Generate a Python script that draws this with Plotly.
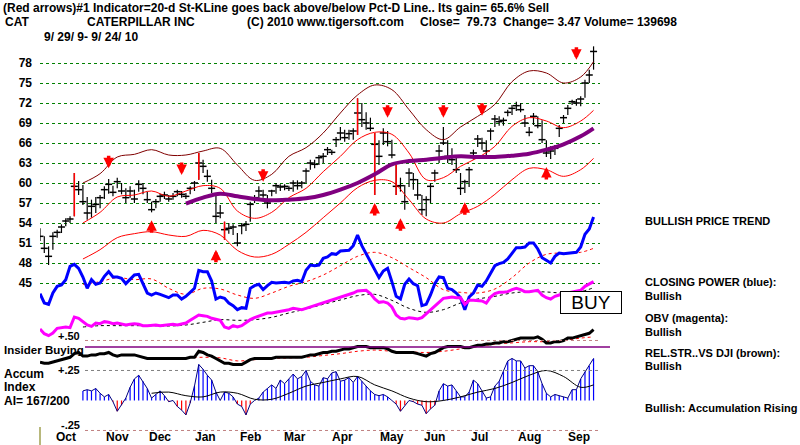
import pandas as pd
import plotly.graph_objects as go

# ---------------- data ----------------
START = "2009-09-29"          # first bar; one value every 2 trading days
HIGH = [53.2, 52.0, 50.5, 52.6, 53.0, 53.8, 54.7, 55.0, 61.5, 60.3,
        59.7, 57.9, 57.5, 57.9, 58.2, 59.5, 60.6, 59.6, 60.8, 60.0,
        59.2, 59.5, 59.0, 60.4, 60.0, 58.7, 57.2, 57.6, 58.4, 58.7,
        58.2, 58.5, 59.0, 58.8, 58.5, 59.5, 60.3, 64.5, 63.5, 62.0,
        60.5, 58.5, 56.7, 54.2, 54.0, 53.8, 52.5, 54.0, 54.3, 57.2,
        58.2, 59.5, 59.0, 58.2, 59.0, 60.0, 59.8, 59.8, 59.6, 60.4,
        60.4, 60.3, 62.2, 63.5, 63.5, 64.2, 64.5, 65.4, 65.0, 66.9,
        68.4, 68.0, 68.0, 68.2, 72.7, 72.0, 70.6, 69.8, 67.5, 66.4,
        68.2, 67.8, 66.5, 62.7, 60.8, 59.7, 62.2, 61.5, 60.6, 58.2,
        58.0, 60.0, 62.0, 65.7, 68.4, 66.4, 65.2, 64.0, 61.5, 60.5,
        62.4, 65.0, 67.2, 66.8, 66.4, 68.2, 70.2, 70.0, 69.8, 71.0,
        71.7, 72.2, 72.0, 70.2, 68.4, 70.5, 70.0, 69.4, 66.4, 65.5,
        65.7, 68.7, 70.2, 71.7, 72.5, 72.6, 73.0, 75.5, 77.0, 80.5]
LOW = [51.3, 49.5, 47.7, 50.0, 51.8, 52.5, 53.5, 54.0, 55.0, 58.2,
       56.7, 54.5, 54.8, 55.5, 56.2, 57.6, 58.4, 58.0, 59.2, 58.3,
       57.0, 57.8, 57.0, 58.7, 58.3, 57.0, 55.6, 56.2, 57.2, 57.6,
       57.2, 57.5, 58.0, 57.8, 57.6, 58.3, 58.8, 60.5, 61.5, 60.2,
       58.5, 54.0, 54.7, 51.5, 52.4, 52.2, 50.5, 52.3, 52.8, 54.2,
       57.0, 57.6, 57.8, 56.2, 58.0, 58.4, 58.8, 58.9, 58.8, 58.7,
       59.0, 59.2, 60.0, 62.0, 62.2, 62.7, 63.0, 64.2, 64.2, 65.4,
       66.4, 66.2, 66.5, 66.5, 67.2, 68.4, 68.0, 67.8, 58.2, 62.7,
       65.7, 65.5, 63.7, 58.2, 58.7, 56.0, 59.4, 59.0, 57.5, 55.2,
       55.0, 57.0, 60.2, 63.0, 65.7, 63.0, 62.7, 61.5, 58.2, 58.5,
       59.4, 63.5, 65.4, 65.0, 64.2, 66.4, 68.4, 68.6, 68.6, 70.0,
       70.2, 70.8, 70.6, 68.4, 67.0, 68.7, 68.2, 66.0, 63.9, 63.6,
       64.2, 66.9, 69.0, 70.2, 71.7, 71.6, 71.5, 72.8, 75.0, 77.0]
CLOSE = [52.0, 50.2, 49.0, 52.0, 52.6, 53.4, 54.3, 54.6, 59.5, 59.0,
         57.2, 55.5, 56.5, 56.8, 57.8, 59.0, 59.8, 58.6, 60.2, 58.8,
         57.8, 58.8, 57.6, 59.8, 59.2, 57.5, 56.0, 57.2, 58.0, 58.2,
         57.6, 58.0, 58.7, 58.3, 58.0, 59.2, 60.0, 63.0, 62.5, 61.0,
         59.2, 55.0, 55.5, 53.0, 53.2, 53.4, 51.0, 53.6, 53.8, 56.8,
         57.8, 58.8, 58.2, 57.0, 58.8, 59.6, 59.4, 59.5, 59.2, 60.0,
         59.6, 60.0, 61.8, 63.0, 62.8, 63.8, 64.0, 65.0, 64.6, 66.5,
         67.5, 66.8, 67.4, 67.8, 70.5, 69.5, 69.0, 68.2, 65.8, 64.0,
         67.5, 66.2, 64.2, 59.5, 59.6, 57.2, 61.5, 60.5, 58.2, 56.0,
         57.5, 59.5, 61.5, 64.8, 66.0, 64.0, 63.5, 62.0, 59.2, 60.2,
         62.0, 64.5, 66.6, 66.0, 64.8, 67.8, 69.6, 69.2, 69.4, 70.6,
         71.2, 71.6, 71.0, 69.0, 67.6, 70.0, 68.6, 66.5, 64.5, 64.8,
         65.2, 68.2, 69.8, 71.2, 72.2, 72.0, 72.6, 75.0, 76.2, 79.73]
SIGNAL_BARS = [8, 37, 43, 74, 78, 83]          # red bars

# closing power (blue) and OBV (magenta), drawn in the price panel
CLOSING_POWER = [43.4, 42.0, 41.8, 43.5, 44.5, 44.7, 45.5, 47.5, 47.8, 47.2,
                 45.9, 44.2, 45.5, 44.8, 45.0, 46.0, 46.7, 45.9, 45.9, 45.7,
                 44.9, 45.5, 46.2, 46.3, 44.9, 43.5, 43.2, 43.5, 43.3, 43.0,
                 42.8, 43.2, 43.2, 42.6, 43.0, 43.6, 44.2, 46.9, 46.7, 46.7,
                 45.3, 42.6, 42.9, 42.7, 42.0, 41.6, 41.0, 41.3, 41.2, 44.2,
                 44.6, 44.8, 44.0, 44.6, 45.1, 45.0, 45.1, 45.1, 45.0, 45.3,
                 45.4, 45.2, 46.9, 47.7, 47.6, 47.7, 48.7, 48.9, 49.4, 49.3,
                 49.8, 49.8, 49.9, 50.6, 52.2, 50.6, 49.4, 48.2, 47.0, 45.8,
                 46.8, 47.2, 45.2, 43.0, 42.6, 44.8, 45.6, 44.9, 44.6, 41.6,
                 41.8, 43.2, 44.9, 45.9, 45.8, 44.2, 44.0, 43.5, 42.8, 41.0,
                 42.9, 43.5, 44.7, 44.5, 45.3, 46.5, 47.6, 47.9, 48.1, 48.6,
                 49.5, 50.3, 50.3, 50.4, 51.0, 51.0, 50.1, 48.8, 48.4, 48.0,
                 49.0, 49.5, 49.4, 49.5, 49.5, 49.6, 50.4, 52.3, 53.1, 54.9]
OBV = [38.1, 37.4, 37.1, 37.5, 38.2, 38.3, 38.4, 38.3, 39.9, 39.7,
       39.2, 38.7, 38.5, 39.0, 38.9, 39.2, 39.1, 38.9, 39.0, 38.8,
       38.7, 38.8, 38.9, 38.8, 38.6, 38.6, 38.7, 38.7, 38.6, 38.7,
       38.7, 38.8, 38.7, 38.8, 39.0, 39.4, 39.8, 40.2, 40.1, 40.0,
       39.7, 39.5, 39.4, 38.4, 38.2, 38.6, 38.4, 38.6, 39.1, 39.5,
       39.8, 40.0, 40.2, 40.5, 40.5, 40.6, 40.7, 40.9, 41.0, 41.2,
       41.1, 41.0, 41.2, 41.4, 41.6, 41.9, 42.1, 42.2, 42.4, 42.6,
       42.8, 43.1, 43.3, 43.5, 43.8, 43.9, 43.9, 43.4, 42.6, 42.1,
       42.2, 42.0, 41.4, 40.2, 39.7, 39.6, 39.8, 39.7, 39.6, 39.8,
       40.4, 40.9, 41.5, 42.2, 42.7, 42.8, 42.9, 42.8, 42.8, 41.8,
       42.4, 42.4, 42.4, 42.3, 42.0, 42.9, 43.4, 43.6, 43.6, 43.7,
       44.0, 44.2, 44.0, 43.7, 43.7, 43.8, 43.9, 43.2, 42.8, 42.6,
       43.0, 43.2, 43.5, 43.5, 43.6, 43.8, 43.9, 44.5, 44.9, 45.2]

# relative strength vs DJI (black, lower panel scale) and accumulation index
REL_STRENGTH = [0.32, 0.31, 0.31, 0.32, 0.33, 0.34, 0.35, 0.36, 0.39, 0.40,
                0.37, 0.37, 0.38, 0.38, 0.39, 0.39, 0.40, 0.38, 0.37, 0.38,
                0.38, 0.38, 0.38, 0.37, 0.36, 0.35, 0.35, 0.35, 0.35, 0.35,
                0.35, 0.35, 0.35, 0.35, 0.35, 0.36, 0.36, 0.41, 0.40, 0.38,
                0.37, 0.35, 0.33, 0.31, 0.31, 0.30, 0.30, 0.30, 0.32, 0.34,
                0.35, 0.35, 0.35, 0.35, 0.35, 0.36, 0.36, 0.36, 0.36, 0.36,
                0.36, 0.36, 0.37, 0.38, 0.38, 0.39, 0.40, 0.40, 0.41, 0.41,
                0.42, 0.43, 0.43, 0.44, 0.45, 0.45, 0.45, 0.44, 0.44, 0.44,
                0.44, 0.43, 0.41, 0.40, 0.40, 0.40, 0.40, 0.40, 0.39, 0.38,
                0.37, 0.39, 0.40, 0.42, 0.44, 0.45, 0.45, 0.45, 0.45, 0.44,
                0.44, 0.45, 0.46, 0.46, 0.47, 0.47, 0.48, 0.48, 0.49, 0.49,
                0.50, 0.51, 0.52, 0.52, 0.52, 0.52, 0.53, 0.51, 0.48, 0.48,
                0.49, 0.49, 0.50, 0.52, 0.52, 0.53, 0.54, 0.55, 0.56, 0.59]
AI_START = 10
ACCUM_INDEX = [0.08, 0.09, 0.08, 0.10, 0.06, 0.03, 0.05, -0.01, -0.09, -0.04,
               0.02, 0.11, 0.18, 0.21, 0.16, 0.10, 0.02, 0.05, 0.08, 0.04,
               -0.01, 0.0, -0.05, -0.08, -0.12, -0.02, 0.12, 0.30, 0.26, 0.21,
               0.17, 0.07, 0.0, 0.07, 0.06, 0.03, -0.03, -0.05, -0.12, -0.03,
               0.0, 0.02, 0.07, 0.10, 0.13, 0.10, 0.17, 0.14, 0.18, 0.22,
               0.18, 0.20, 0.25, 0.16, 0.13, 0.12, 0.19, 0.18, 0.23, 0.24,
               0.16, 0.17, 0.19, 0.15, 0.20, 0.16, 0.12, 0.08, 0.05, 0.04,
               0.05, 0.03, 0.0, -0.03, -0.09, -0.04, 0.0, -0.01, -0.03, -0.04,
               -0.11, -0.07, -0.04, 0.08, 0.14, 0.12, 0.13, 0.08, 0.03, 0.03,
               0.07, 0.17, 0.14, 0.08, 0.02, 0.03, 0.12, 0.16, 0.24, 0.33,
               0.35, 0.33, 0.33, 0.27, 0.29, 0.29, 0.24, 0.14, 0.06, 0.03,
               0.05, 0.04, 0.03, 0.02, 0.09, 0.09, 0.18, 0.24, 0.29, 0.35]

# smooth bands and moving averages, read every 4th point (8 trading days)
BAND_START, BAND_STEP = 10, 4
UPPER_BAND = [60.0, 61.4, 63.9, 64.3, 65.0, 64.2, 64.2, 64.8, 65.2, 62.7,
              60.4, 61.3, 64.0, 65.3, 67.5, 70.5, 73.2, 74.7, 74.0, 71.0,
              68.0, 66.5, 68.4, 70.0, 71.8, 75.2, 76.8, 76.5, 75.0, 75.9, 78.2]
INNER_UPPER = [54.0, 55.6, 57.9, 58.2, 58.8, 58.0, 58.8, 59.6, 59.2, 55.8,
               54.7, 55.6, 57.8, 59.2, 61.7, 64.0, 66.5, 67.6, 67.3, 64.5,
               60.5, 60.8, 62.5, 63.8, 65.5, 68.5, 69.8, 69.3, 68.3, 69.3, 70.9]
INNER_LOWER = [48.6, 50.0, 51.8, 52.4, 52.7, 52.2, 52.0, 52.9, 52.2, 49.9,
               48.9, 49.3, 50.8, 52.6, 54.8, 57.0, 59.3, 60.4, 60.2, 57.5,
               54.6, 54.0, 55.4, 56.5, 58.3, 60.5, 62.2, 62.0, 61.0, 62.0, 63.7]
PRICE_MA = [None, None, None, None, None, None, 56.9, 57.8, 58.4, 58.0,
            57.6, 57.4, 57.5, 57.7, 58.2, 59.0, 60.0, 61.3, 62.8, 63.3,
            63.5, 63.8, 64.0, 63.9, 63.9, 64.1, 64.4, 65.0, 65.8, 67.0, 68.2]
CP_MA = [44.8, 45.2, 45.8, 45.5, 45.6, 44.2, 43.3, 44.2, 44.1, 43.2,
         42.7, 43.5, 44.5, 45.2, 46.2, 47.6, 49.0, 49.6, 48.8, 47.3,
         45.8, 44.0, 43.6, 43.5, 44.1, 45.8, 48.0, 49.3, 49.5, 49.6, 50.2]
OBV_MA = [38.4, 38.6, 38.6, 38.6, 38.6, 38.55, 38.7, 39.1, 39.5, 39.4,
          39.5, 39.85, 40.5, 41.1, 41.8, 42.45, 43.1, 43.3, 42.4, 41.2,
          40.6, 41.0, 42.0, 42.6, 43.0, 43.5, 43.7, 43.65, 43.5, 43.7, 44.3]
RS_MA = [None, None, None, None, 0.35, 0.35, 0.355, 0.36, 0.355, 0.33,
         0.34, 0.35, 0.355, 0.36, 0.375, 0.39, 0.41, 0.42, 0.41, 0.405,
         0.40, 0.41, 0.43, 0.45, 0.47, 0.48, 0.49, 0.49, 0.50, 0.52, 0.53]
AI_MA = [None, None, None, None, 0.06, 0.07, 0.04, 0.03, 0.07, 0.06,
         0.01, 0.01, 0.06, 0.12, 0.15, 0.18, 0.20, 0.13, 0.08, 0.02,
         -0.01, 0.0, 0.03, 0.07, 0.10, 0.15, 0.21, 0.25, 0.20, 0.11, 0.13]
INSIDER_LEVEL = 0.446

# red signal arrows: (bar index, price at arrow tip)
DOWN_ARROW_IDX = [16, 33, 52, 81, 94, 103, 125]
DOWN_ARROW_PRICE = [62.2, 61.2, 60.2, 69.8, 69.8, 70.1, 78.5]
UP_ARROW_IDX = [26, 41, 78, 84, 99, 118]
UP_ARROW_PRICE = [54.4, 50.0, 57.0, 54.7, 57.1, 62.4]

PRICE_TICKS = [45, 48, 51, 54, 57, 60, 63, 66, 69, 72, 75, 78]
LOWER_TICKS = [0.5, 0.25, -0.25]
LOWER_TICK_TEXT = ["+.50", "+.25", "-.25"]
MONTHS = ["Oct", "Nov", "Dec", "Jan", "Feb", "Mar", "Apr", "May", "Jun", "Jul", "Aug", "Sep"]
MONTH_DATES = ["2009-10-15", "2009-11-18", "2009-12-16", "2010-01-14", "2010-02-12",
               "2010-03-15", "2010-04-14", "2010-05-17", "2010-06-14", "2010-07-13",
               "2010-08-13", "2010-09-15"]

# ---------------- figure ----------------
W, H = 800, 445
FONT = "Arial"
dates = pd.bdate_range(START, periods=len(CLOSE), freq="2B")
band_idx = list(range(BAND_START, len(CLOSE) - 3, BAND_STEP)) + [len(CLOSE) - 1]
band_dates = [dates[i] for i in band_idx]
ai_dates = list(dates[AI_START:])


def py(px):
    return 1 - px / H


def segments(xs, lo, hi):
    sx, sy = [], []
    for x, a, b in zip(xs, lo, hi):
        sx += [x, x, None]
        sy += [a, b, None]
    return sx, sy


fig = go.Figure()

# price bars
bx, by = segments(dates, LOW, HIGH)
fig.add_trace(go.Scatter(x=bx, y=by, mode="lines", line=dict(color="black", width=1.2),
                         hoverinfo="skip"))
fig.add_trace(go.Scatter(x=dates, y=CLOSE, mode="markers",
                         marker=dict(symbol="line-ew", size=5, line=dict(color="black", width=1.5))))
sig_x = [dates[i] for i in SIGNAL_BARS]
rx, ry = segments(sig_x, [LOW[i] for i in SIGNAL_BARS], [HIGH[i] for i in SIGNAL_BARS])
fig.add_trace(go.Scatter(x=rx, y=ry, mode="lines", line=dict(color="#ff0000", width=1.5)))

# bands / averages
fig.add_trace(go.Scatter(x=band_dates, y=UPPER_BAND, mode="lines", line=dict(color="#800000", width=1, shape="spline")))
fig.add_trace(go.Scatter(x=band_dates, y=INNER_UPPER, mode="lines", line=dict(color="#ff0000", width=1, shape="spline")))
fig.add_trace(go.Scatter(x=band_dates, y=INNER_LOWER, mode="lines", line=dict(color="#ff0000", width=1, shape="spline")))
fig.add_trace(go.Scatter(x=band_dates, y=PRICE_MA, mode="lines", line=dict(color="#800080", width=4, shape="spline")))

# closing power and OBV with their averages
fig.add_trace(go.Scatter(x=band_dates, y=CP_MA, mode="lines", line=dict(color="#ff0000", width=1, dash="dot", shape="spline")))
fig.add_trace(go.Scatter(x=band_dates, y=OBV_MA, mode="lines", line=dict(color="black", width=1, dash="dot", shape="spline")))
fig.add_trace(go.Scatter(x=dates, y=CLOSING_POWER, mode="lines", line=dict(color="#0000ff", width=3)))
fig.add_trace(go.Scatter(x=dates, y=OBV, mode="lines", line=dict(color="#ff00ff", width=3)))

# lower panel: relative strength and accumulation index
fig.add_trace(go.Scatter(x=band_dates, y=RS_MA, mode="lines", yaxis="y2",
                         line=dict(color="#ff0000", width=1, dash="dot", shape="spline")))
fig.add_trace(go.Scatter(x=dates, y=REL_STRENGTH, mode="lines", yaxis="y2", line=dict(color="black", width=3)))
pos = [(d, v) for d, v in zip(ai_dates, ACCUM_INDEX) if v >= 0]
neg = [(d, v) for d, v in zip(ai_dates, ACCUM_INDEX) if v < 0]
px_, py_ = segments([p[0] for p in pos], [0] * len(pos), [p[1] for p in pos])
nx_, ny_ = segments([p[0] for p in neg], [0] * len(neg), [p[1] for p in neg])
fig.add_trace(go.Scatter(x=px_, y=py_, mode="lines", yaxis="y2", line=dict(color="#0000ff", width=1.2)))
fig.add_trace(go.Scatter(x=nx_, y=ny_, mode="lines", yaxis="y2", line=dict(color="#ff0000", width=1.2)))
fig.add_trace(go.Scatter(x=ai_dates, y=ACCUM_INDEX, mode="lines", yaxis="y2", line=dict(color="#000080", width=1)))
fig.add_trace(go.Scatter(x=band_dates, y=AI_MA, mode="lines", yaxis="y2",
                         line=dict(color="black", width=1, shape="spline")))

ann = []
# arrows (block arrows: shaft plus head)
for idxs, prices, tail in ((DOWN_ARROW_IDX, DOWN_ARROW_PRICE, -13), (UP_ARROW_IDX, UP_ARROW_PRICE, 13)):
    for i, p in zip(idxs, prices):
        ann.append(dict(x=dates[i], y=p, xref="x", yref="y", text="", showarrow=True, ax=0, ay=tail,
                        arrowhead=2, arrowsize=0.6, arrowwidth=3.5, arrowcolor="#ff0000",
                        font=dict(size=1), borderpad=0, standoff=0))


def txt(s, x, y, size=12, anchor="left", weight="bold"):
    ann.append(dict(text=s, x=x / W, y=py(y), xref="paper", yref="paper", xanchor=anchor,
                    yanchor="middle", showarrow=False,
                    font=dict(family=FONT, size=size, color="black", weight=weight)))


NB = "\u00a0"
txt("(Red arrows)#1 Indicator=20-d St-KLine goes back above/below Pct-D Line.. Its gain= 65.6% Sell", 1, 8, 12)
txt("CAT", 3, 22)
txt("CATERPILLAR INC", 85, 22)
txt("(C) 2010 www.tigersoft.com", 245, 22)
txt(f"Close={NB}{NB}79.73{NB}{NB}Change={NB}3.47{NB}Volume={NB}139698", 418, 22)
txt(f"9/{NB}29/{NB}9-{NB}9/{NB}24/{NB}10", 42, 37)
txt("Insider Buying", 2, 350, 11.5)
txt("Accum", 2, 374)
txt("Index", 2, 387)
txt("AI= 167/200", 2, 401)
txt("BULLISH PRICE TREND", 643, 221, 11)
txt("CLOSING POWER (blue):", 643, 282, 11)
txt("Bullish", 643, 296, 11)
txt("OBV (magenta):", 643, 318, 11)
txt("Bullish", 643, 332, 11)
txt("REL.STR..VS DJI (brown):", 643, 353, 11)
txt("Bullish", 643, 366, 11)
txt("Bullish: Accumulation Rising", 643, 408, 11)
ann.append(dict(text="BUY", x=591 / W, y=py(302), xref="paper", yref="paper", showarrow=False,
                xanchor="center", yanchor="middle", width=58, height=19,
                bordercolor="black", borderwidth=1, bgcolor="white",
                font=dict(family=FONT, size=19, color="black")))
for m, d in zip(MONTHS, MONTH_DATES):
    ann.append(dict(text=m, x=d, y=0, xref="x", yref="paper", showarrow=False,
                    xanchor="center", yanchor="bottom", borderpad=0,
                    font=dict(family=FONT, size=12, color="black", weight="bold")))
# lower-panel scale labels (on the y2 scale, nudged up a little like the original)
for v, t, shift in zip(LOWER_TICKS, LOWER_TICK_TEXT, [4, 0, 5]):
    ann.append(dict(text=t, x=81 / W, y=v, xref="paper", yref="y2", yshift=shift, showarrow=False,
                    xanchor="right", yanchor="middle", borderpad=0,
                    font=dict(family=FONT, size=11, color="black", weight="bold")))

shapes = []
for v, col in zip(LOWER_TICKS, ["#c08080", "#808080", "#c08080"]):
    shapes.append(dict(type="line", xref="paper", yref="y2", x0=85 / W, x1=600 / W, y0=v, y1=v,
                       line=dict(color=col, width=1, dash="dot")))
shapes.append(dict(type="line", xref="paper", yref="y2", x0=85 / W, x1=610 / W,
                   y0=INSIDER_LEVEL, y1=INSIDER_LEVEL, line=dict(color="#800080", width=1.5)))
shapes.append(dict(type="line", xref="paper", yref="paper", x0=40 / W, x1=40 / W,
                   y0=py(445), y1=py(427), line=dict(color="#a0a050", width=1.5)))

x_end = dates[-1] + pd.offsets.BDay(3)
fig.update_layout(
    width=W, height=H, margin=dict(l=0, r=0, t=0, b=0),
    paper_bgcolor="white", plot_bgcolor="rgba(0,0,0,0)", showlegend=False,
    annotations=ann, shapes=shapes,
    xaxis=dict(domain=[40 / W, 600 / W], range=[dates[0], x_end], showgrid=False,
               showticklabels=False, zeroline=False, showline=False, ticks="",
               rangebreaks=[dict(bounds=["sat", "mon"])]),
    yaxis=dict(domain=[py(342), py(40)], range=[36.15, 81.45], tickvals=PRICE_TICKS,
               showgrid=True, gridcolor="#008000", griddash="dot", gridwidth=1,
               zeroline=False, showline=False, ticks="", ticklabelstandoff=7,
               tickfont=dict(family=FONT, size=12, color="black", weight="bold")),
    yaxis2=dict(domain=[0, py(325)], range=[-0.371, 0.629], anchor="free", position=85 / W,
                showticklabels=False, showgrid=False, zeroline=False, showline=False, ticks=""),
)
fig.write_html("out.html")
